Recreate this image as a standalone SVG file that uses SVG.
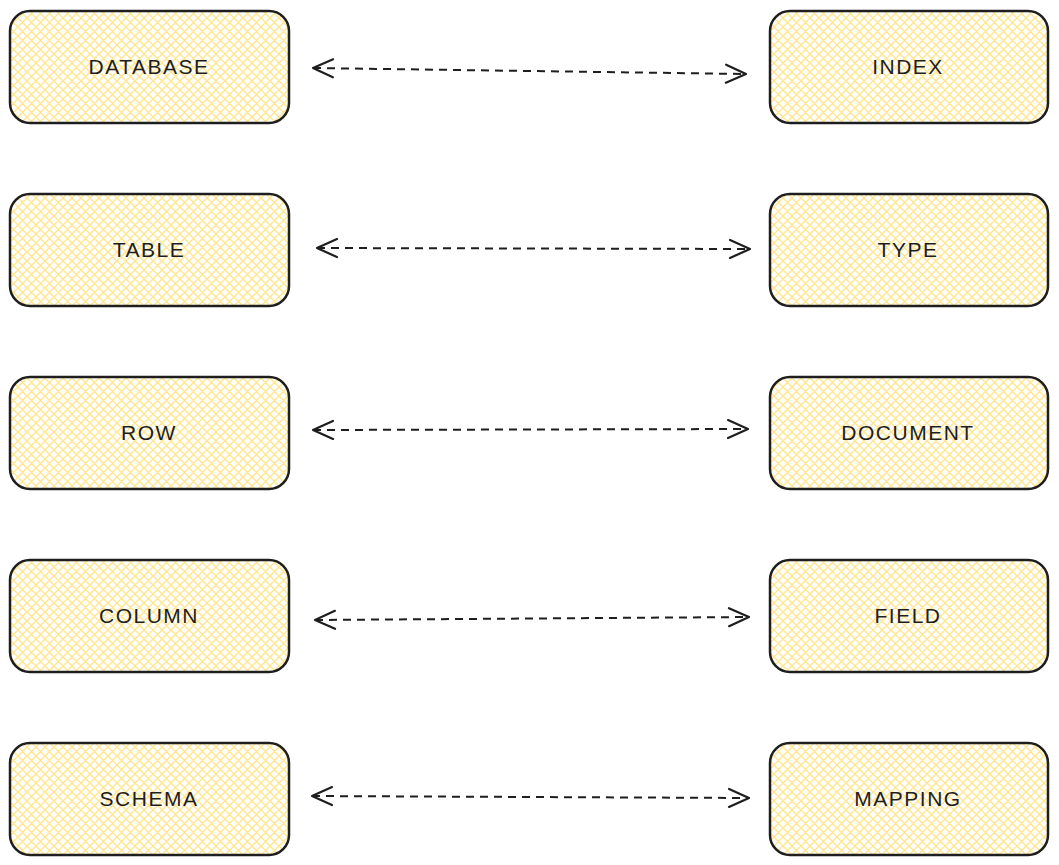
<svg xmlns="http://www.w3.org/2000/svg" width="1059" height="865" viewBox="0 0 1059 865">
<style>
.box{fill:url(#hatch);stroke:#1e1e1e;stroke-width:2.5}
.lbl{font-family:"Liberation Sans",Arial,sans-serif;font-size:21px;fill:#1e1e1e;text-anchor:middle;dominant-baseline:central;letter-spacing:1.5px}
.con{fill:none;stroke:#1e1e1e;stroke-width:2;stroke-dasharray:8 6}
.head{fill:none;stroke:#1e1e1e;stroke-width:2.2;stroke-linecap:round;stroke-linejoin:round}
</style>
<defs>
<pattern id="hatch" patternUnits="userSpaceOnUse" width="9" height="9">
<rect width="9" height="9" fill="#ffffff"/>
<path d="M-1,1 l2,-2 M0,9 l9,-9 M8,10 l2,-2 M-1,8 l2,2 M0,0 l9,9 M8,-1 l2,2" stroke="#ffe68f" stroke-width="1.4"/>
</pattern>
<marker id="ah" viewBox="0 0 24 24" refX="22" refY="12" markerWidth="24" markerHeight="24" markerUnits="userSpaceOnUse" orient="auto-start-reverse">
<path d="M2,3 L22,12 L2,21" class="head"/>
</marker>
</defs>
<g id="connectors">
<path class="con" d="M313,68 L746,74" marker-start="url(#ah)" marker-end="url(#ah)"/>
<path class="con" d="M317,248 L750,249" marker-start="url(#ah)" marker-end="url(#ah)"/>
<path class="con" d="M313,430 L748,429" marker-start="url(#ah)" marker-end="url(#ah)"/>
<path class="con" d="M315,620 L749,617" marker-start="url(#ah)" marker-end="url(#ah)"/>
<path class="con" d="M312,796 L749,798" marker-start="url(#ah)" marker-end="url(#ah)"/>
</g>
<g id="database"><rect class="box" x="10" y="11" width="279" height="112" rx="20"/><text class="lbl" x="149" y="66">DATABASE</text></g>
<g id="index"><rect class="box" x="770" y="11" width="278" height="112" rx="20"/><text class="lbl" x="908" y="66">INDEX</text></g>
<g id="table"><rect class="box" x="10" y="194" width="279" height="112" rx="20"/><text class="lbl" x="149" y="249">TABLE</text></g>
<g id="type"><rect class="box" x="770" y="194" width="278" height="112" rx="20"/><text class="lbl" x="908" y="249">TYPE</text></g>
<g id="row"><rect class="box" x="10" y="377" width="279" height="112" rx="20"/><text class="lbl" x="149" y="432">ROW</text></g>
<g id="document"><rect class="box" x="770" y="377" width="278" height="112" rx="20"/><text class="lbl" x="908" y="432">DOCUMENT</text></g>
<g id="column"><rect class="box" x="10" y="560" width="279" height="112" rx="20"/><text class="lbl" x="149" y="615">COLUMN</text></g>
<g id="field"><rect class="box" x="770" y="560" width="278" height="112" rx="20"/><text class="lbl" x="908" y="615">FIELD</text></g>
<g id="schema"><rect class="box" x="10" y="743" width="279" height="112" rx="20"/><text class="lbl" x="149" y="798">SCHEMA</text></g>
<g id="mapping"><rect class="box" x="770" y="743" width="278" height="112" rx="20"/><text class="lbl" x="908" y="798">MAPPING</text></g>
</svg>
